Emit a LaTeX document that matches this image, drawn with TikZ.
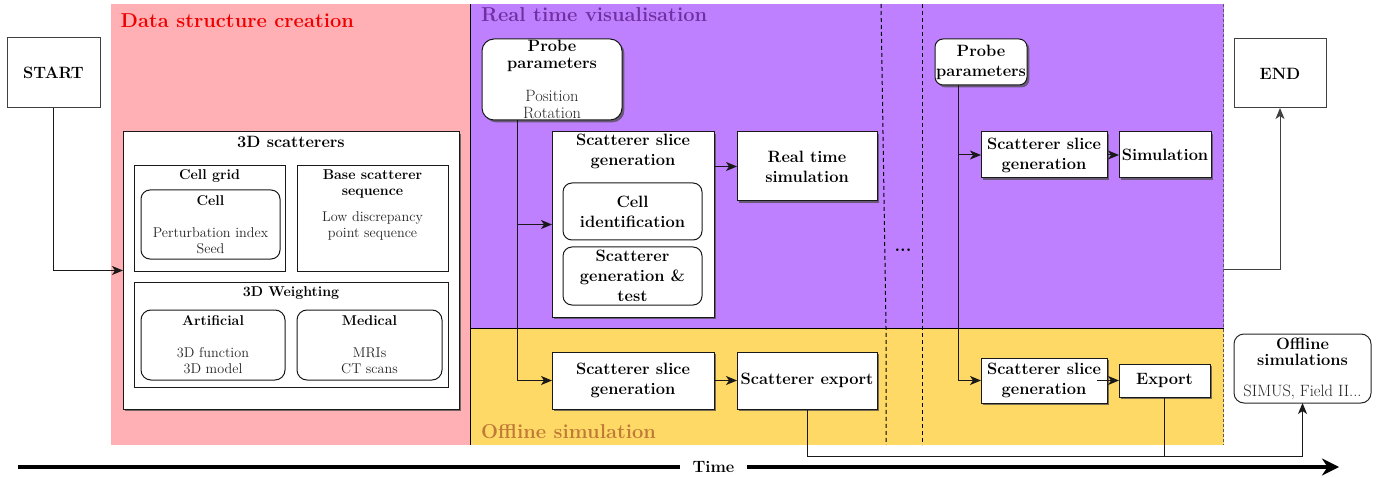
\documentclass[tikz,border=0pt]{standalone}
\usetikzlibrary{arrows.meta,shadows,calc}
\definecolor{pinkbg}{RGB}{255,176,180}
\definecolor{purplebg}{RGB}{191,128,255}
\definecolor{yellowbg}{RGB}{255,217,102}
\definecolor{titlepurple}{RGB}{112,48,160}
\definecolor{titlebrown}{RGB}{192,122,56}
\definecolor{titlered}{RGB}{240,0,0}
\newcommand\myM{\fontsize{16.4}{20}\selectfont}
\newcommand\myMt{\fontsize{16.4}{16.5}\selectfont}
\newcommand\myS{\fontsize{14.2}{16}\selectfont}
\newcommand\myL{\fontsize{20.1}{24}\selectfont}
\begin{document}
\begin{tikzpicture}[x=1pt,y=-1pt,
  box/.style={draw=black!90, line width=1pt, fill=white, inner sep=0pt, outer sep=0pt, align=center, text=black},
  shad/.style={drop shadow={shadow xshift=2.4pt, shadow yshift=-2.4pt, fill=black!70, opacity=0.75}},
  rbox/.style={box, rounded corners=#1},
  plain/.style={draw=none, fill=none, inner sep=0pt, align=center, text=black},
  arr/.style={-{Stealth[length=11pt,width=9pt,inset=3pt]}, line width=1pt, draw=black!90},
  ln/.style={line width=1pt, draw=black!90},
  sep/.style={line width=1pt, dash pattern=on 4pt off 3pt},
  reg/.style={font=\mdseries}
]
\useasboundingbox (0,0) rectangle (1396,478);
% backgrounds
\fill[pinkbg] (111,4) rectangle (470,445);
\fill[purplebg] (470,4) rectangle (1224,328);
\fill[yellowbg] (470,328) rectangle (1224,445);
\draw[line width=1.3pt] (470.5,4) -- (470.5,445);
\draw[line width=1pt] (470,328) -- (1224,328);
\draw[sep] (881,4) -- (886,328) -- (886,445);
\draw[sep] (922,4) -- (922,445);
\draw[line width=1pt, dash pattern=on 3pt off 2pt, black!65] (1223,4) -- (1223,445);

% region titles
\node[plain, anchor=base west, text=titlered, font=\bfseries\myL] (tdata) at (120.5,28) {Data structure creation};
\node[plain, anchor=base west, text=titlepurple, font=\bfseries\myL] (treal) at (481,22) {Real time visualisation};
\node[plain, anchor=base west, text=titlebrown, font=\bfseries\myL] (toff) at (481,438.5) {Offline simulation};

% start / end
\node[box, draw=black!75, minimum width=93pt, minimum height=70pt, font=\bfseries\myM] (start) at (53.5,73) {START};
\node[box, draw=black!75, minimum width=92pt, minimum height=69pt, font=\bfseries\myM] (end) at (1280,73.5) {END};

% 3D scatterers group
\node[box, shad, minimum width=336pt, minimum height=277pt] (scat) at (291,270.5) {};
\node[plain, font=\bfseries\myM] (scatt) at (291,142) {3D scatterers};
\node[box, minimum width=151pt, minimum height=105pt] (grid) at (209.5,218.5) {};
\node[plain, font=\bfseries\myS] (gridt) at (209.5,176) {Cell grid};
\node[rbox=9pt, minimum width=139pt, minimum height=69pt, font=\myS] (cell) at (210.5,224.5) {\textbf{Cell}\\[16pt]{\color{black!85}Perturbation index}\\{\color{black!85}Seed}};
\node[box, minimum width=151pt, minimum height=105pt] (base) at (372.5,218.5) {};
\node[plain, font=\bfseries\myS] (baset) at (372.5,184.5) {Base scatterer\\sequence};
\node[plain, font=\myS, text=black!85] (baseb) at (372.5,226) {Low discrepancy\\point sequence};
\node[box, minimum width=314pt, minimum height=105pt] (weight) at (291,334.5) {};
\node[plain, font=\bfseries\myS] (weightt) at (291,293) {3D Weighting};
\node[rbox=10pt, minimum width=144pt, minimum height=70pt, font=\myS] (art) at (213,345) {\textbf{Artificial}\\[16pt]{\color{black!85}3D function}\\{\color{black!85}3D model}};
\node[rbox=10pt, minimum width=145pt, minimum height=70pt, font=\myS] (med) at (369.5,345) {\textbf{Medical}\\[16pt]{\color{black!85}MRIs}\\{\color{black!85}CT scans}};

% real time, first step
\node[rbox=12pt, shad, minimum width=140pt, minimum height=81pt, font=\myMt] (probe) at (552,79.5) {\textbf{Probe}\\\textbf{parameters}\\[17pt]{\color{black!85}Position}\\{\color{black!85}Rotation}};
\node[box, shad, minimum width=162pt, minimum height=185pt] (slice) at (633,224.5) {};
\node[plain, font=\bfseries\myM] (slicet) at (633,151) {Scatterer slice\\generation};
\node[rbox=9pt, minimum width=139pt, minimum height=57pt, font=\bfseries\myM] (cellid) at (632.5,211.5) {Cell\\identification};
\node[rbox=9pt, minimum width=139pt, minimum height=58pt, font=\bfseries\myM] (scgen) at (632.5,276) {Scatterer\\generation \&\\test};
\node[box, shad, minimum width=140pt, minimum height=69pt, font=\bfseries\myM] (rtsim) at (807,166.5) {Real time\\simulation};

% offline, first step
\node[box, shad, minimum width=162pt, minimum height=57pt, font=\bfseries\myM] (oslice) at (633,380.5) {Scatterer slice\\generation};
\node[box, shad, minimum width=140pt, minimum height=57pt, font=\bfseries\myM] (export) at (807,380.5) {Scatterer export};

% dots
\node[plain, font=\bfseries\fontsize{18}{20}\selectfont] (dots) at (903,250) {...};

% real time, last step
\node[rbox=8pt, shad, minimum width=92pt, minimum height=46pt, font=\bfseries\myM] (probe2) at (981,62) {Probe\\parameters};
\node[box, shad, minimum width=126pt, minimum height=46pt, font=\bfseries\myM] (slice2) at (1044,155) {Scatterer slice\\generation};
\node[box, shad, minimum width=92pt, minimum height=46pt, font=\bfseries\myM] (sim2) at (1165,155) {Simulation};
\node[box, shad, minimum width=126pt, minimum height=45pt, font=\bfseries\myM] (oslice2) at (1044,380.5) {Scatterer slice\\generation};
\node[box, shad, minimum width=91pt, minimum height=33pt, font=\bfseries\myM] (export2) at (1164.5,380.5) {Export};

% offline simulations
\node[rbox=10pt, draw=black!85, minimum width=137pt, minimum height=69pt, font=\myMt] (offsims) at (1302.5,368.5) {\textbf{Offline}\\\textbf{simulations}\\[14pt]{\color{black!85}SIMUS, Field II...}};

% connectors
\draw[arr] (start.south) |- (scat.west);
\coordinate (p1) at ($(probe.south west)!0.25!(probe.south east)$);
\draw[arr] (p1) |- (slice.west);
\draw[arr] (p1) |- (oslice.west);
\draw[arr] (slice.east |- rtsim.west) -- (rtsim.west);
\draw[arr] (oslice.east) -- (export.west);
\coordinate (p2) at ($(probe2.south west)!0.25!(probe2.south east)$);
\draw[arr] (p2) |- (oslice2.west);
\draw[arr] (p2) |- (slice2.west);
\draw[arr] (slice2.east) -- (sim2.west);
\draw[arr] ([xshift=-10pt]oslice2.east) -- (export2.west);
\coordinate (rtend) at (1224,269);
\draw[arr, draw=black!75] (rtend) -| (end.south);
\coordinate (bus) at (807,456);
\draw[arr] (export.south) -- (bus) -| (offsims.south);
\draw[ln] (export2.south) -- (export2.south |- bus);

% time axis
\coordinate (ts) at (18,467);
\coordinate (te) at (1339,467);
\draw[line width=3.5pt, -{Stealth[length=17pt,width=17pt]}] (ts) -- (te);
\node[fill=white, inner xsep=13pt, inner ysep=3pt, text=black, font=\bfseries\myM] (time) at (713.5,467) {Time};
\end{tikzpicture}
\end{document}
